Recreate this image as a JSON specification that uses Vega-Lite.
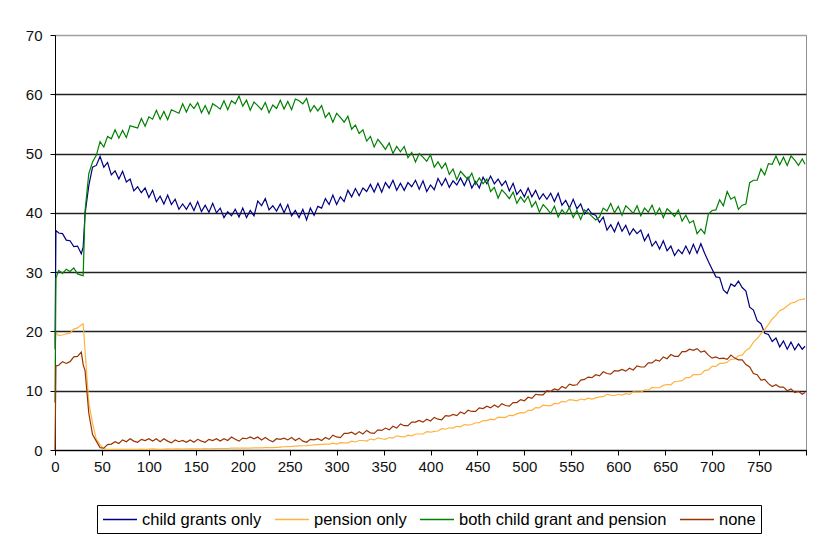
{
 "$schema": "https://vega.github.io/schema/vega-lite/v6.json",
 "width": 751, "height": 415,
 "autosize": "none",
 "padding": {"left": 55, "top": 35, "right": 15, "bottom": 90},
 "background": "white",
 "config": {"view": {"stroke": "#909090", "strokeWidth": 1}, "font": "Liberation Sans"},
 "data": {"values": [
{"x":0,"a":17,"b":17,"c":8,"d":0},
{"x":1,"a":37,"b":19.8,"c":29,"d":14.2},
{"x":4,"a":36.6,"b":19.3,"c":30.3,"d":14.3},
{"x":8,"a":36.5,"b":19.4,"c":29.8,"d":14.9},
{"x":12,"a":35.4,"b":19.6,"c":30.5,"d":14.6},
{"x":16,"a":35.3,"b":19.7,"c":30.1,"d":14.9},
{"x":20,"a":34.3,"b":20.4,"c":30.7,"d":15.7},
{"x":24,"a":34.4,"b":20.6,"c":29.7,"d":15.8},
{"x":28,"a":33.1,"b":21.1,"c":29.5,"d":16.5},
{"x":30,"a":34.2,"b":21.3,"c":29.4,"d":14.4},
{"x":32,"a":39.8,"b":16.8,"c":40.3,"d":13.4},
{"x":36,"a":44.6,"b":8.0,"c":46.6,"d":6.2},
{"x":40,"a":47.7,"b":4.5,"c":48.6,"d":2.6},
{"x":44,"a":48.0,"b":1.8,"c":49.7,"d":1.5},
{"x":48,"a":49.5,"b":0.9,"c":52.0,"d":0.4},
{"x":52,"a":47.7,"b":0.2,"c":51.1,"d":0.3},
{"x":56,"a":48.5,"b":0.1,"c":52.9,"d":0.9},
{"x":60,"a":46.4,"b":0.1,"c":52.5,"d":1.0},
{"x":64,"a":47.1,"b":0.1,"c":54.0,"d":1.4},
{"x":68,"a":45.7,"b":0.1,"c":52.6,"d":1.1},
{"x":72,"a":47.0,"b":0.1,"c":53.9,"d":1.7},
{"x":76,"a":45.2,"b":0.1,"c":52.7,"d":1.4},
{"x":80,"a":45.7,"b":0.1,"c":54.7,"d":1.9},
{"x":84,"a":43.7,"b":0.1,"c":54.5,"d":1.5},
{"x":88,"a":44.4,"b":0.1,"c":54.3,"d":1.3},
{"x":92,"a":43.4,"b":0.15,"c":55.9,"d":1.8},
{"x":96,"a":44.2,"b":0.1,"c":54.6,"d":1.6},
{"x":100,"a":42.6,"b":0.15,"c":56.2,"d":1.9},
{"x":104,"a":43.8,"b":0.2,"c":55.8,"d":1.5},
{"x":108,"a":41.9,"b":0.15,"c":57.3,"d":1.9},
{"x":112,"a":42.8,"b":0.1,"c":55.8,"d":1.4},
{"x":116,"a":41.5,"b":0.15,"c":57.1,"d":1.9},
{"x":120,"a":43.0,"b":0.2,"c":55.7,"d":1.5},
{"x":124,"a":41.4,"b":0.15,"c":57.4,"d":1.2},
{"x":128,"a":42.3,"b":0.2,"c":57.1,"d":1.7},
{"x":132,"a":40.6,"b":0.2,"c":56.8,"d":1.4},
{"x":136,"a":41.5,"b":0.15,"c":58.4,"d":1.6},
{"x":140,"a":40.6,"b":0.2,"c":57.0,"d":1.3},
{"x":144,"a":41.7,"b":0.2,"c":58.4,"d":1.7},
{"x":148,"a":40.4,"b":0.2,"c":57.6,"d":1.3},
{"x":152,"a":41.9,"b":0.2,"c":58.6,"d":1.8},
{"x":156,"a":40.2,"b":0.2,"c":56.9,"d":1.5},
{"x":160,"a":41.3,"b":0.25,"c":58.1,"d":1.3},
{"x":164,"a":40.1,"b":0.2,"c":56.7,"d":1.8},
{"x":168,"a":41.6,"b":0.25,"c":58.4,"d":1.6},
{"x":172,"a":40.0,"b":0.25,"c":58.0,"d":1.9},
{"x":176,"a":40.8,"b":0.25,"c":57.5,"d":1.5},
{"x":180,"a":39.2,"b":0.25,"c":58.9,"d":1.9},
{"x":184,"a":40.2,"b":0.25,"c":57.4,"d":1.6},
{"x":188,"a":39.5,"b":0.3,"c":58.9,"d":2.2},
{"x":192,"a":40.6,"b":0.3,"c":58.4,"d":1.8},
{"x":196,"a":39.3,"b":0.3,"c":59.7,"d":1.5},
{"x":200,"a":40.8,"b":0.3,"c":58.0,"d":2.0},
{"x":204,"a":39.2,"b":0.3,"c":59.0,"d":1.9},
{"x":208,"a":40.4,"b":0.3,"c":57.3,"d":2.2},
{"x":212,"a":39.5,"b":0.35,"c":58.7,"d":1.9},
{"x":216,"a":42.0,"b":0.35,"c":58.1,"d":2.2},
{"x":220,"a":41.2,"b":0.35,"c":57.4,"d":1.7},
{"x":224,"a":42.4,"b":0.4,"c":58.6,"d":2.1},
{"x":228,"a":40.5,"b":0.4,"c":56.9,"d":1.7},
{"x":232,"a":41.2,"b":0.4,"c":58.2,"d":1.4},
{"x":236,"a":40.3,"b":0.45,"c":57.6,"d":1.9},
{"x":240,"a":41.5,"b":0.5,"c":59.0,"d":1.8},
{"x":244,"a":40.0,"b":0.55,"c":57.5,"d":2.0},
{"x":248,"a":41.4,"b":0.58,"c":58.8,"d":1.7},
{"x":252,"a":39.5,"b":0.6,"c":57.4,"d":2.1},
{"x":256,"a":40.4,"b":0.65,"c":59.2,"d":1.6},
{"x":260,"a":39.2,"b":0.7,"c":58.9,"d":2.0},
{"x":264,"a":40.6,"b":0.72,"c":58.4,"d":1.5},
{"x":268,"a":38.8,"b":0.75,"c":59.3,"d":1.3},
{"x":272,"a":40.8,"b":0.8,"c":57.1,"d":1.8},
{"x":276,"a":39.6,"b":0.85,"c":58.1,"d":1.7},
{"x":280,"a":41.1,"b":0.9,"c":57.2,"d":1.9},
{"x":284,"a":40.8,"b":0.95,"c":58.1,"d":1.6},
{"x":288,"a":42.4,"b":0.98,"c":56.1,"d":2.1},
{"x":292,"a":41.4,"b":1.0,"c":56.9,"d":1.8},
{"x":296,"a":43.0,"b":1.15,"c":55.3,"d":2.5},
{"x":300,"a":41.4,"b":1.0,"c":56.8,"d":2.2},
{"x":304,"a":42.7,"b":1.25,"c":56.1,"d":2.1},
{"x":308,"a":41.9,"b":1.2,"c":55.3,"d":2.8},
{"x":312,"a":43.8,"b":1.2,"c":56.3,"d":2.8},
{"x":316,"a":42.7,"b":1.5,"c":54.1,"d":3.0},
{"x":320,"a":44.1,"b":1.35,"c":54.8,"d":2.6},
{"x":324,"a":42.9,"b":1.6,"c":53.4,"d":3.1},
{"x":328,"a":44.2,"b":1.6,"c":54.0,"d":2.7},
{"x":332,"a":43.6,"b":1.5,"c":52.1,"d":3.3},
{"x":336,"a":44.8,"b":1.85,"c":52.9,"d":2.9},
{"x":340,"a":43.5,"b":1.7,"c":51.1,"d":2.8},
{"x":344,"a":45.0,"b":2.05,"c":52.4,"d":3.4},
{"x":348,"a":43.5,"b":1.9,"c":51.6,"d":3.3},
{"x":352,"a":45.1,"b":1.8,"c":50.7,"d":3.7},
{"x":356,"a":44.2,"b":2.1,"c":51.8,"d":3.4},
{"x":360,"a":45.5,"b":2.0,"c":50.0,"d":4.0},
{"x":364,"a":43.8,"b":2.4,"c":51.2,"d":3.7},
{"x":368,"a":45.0,"b":2.25,"c":50.3,"d":4.4},
{"x":372,"a":43.8,"b":2.2,"c":51.2,"d":4.1},
{"x":376,"a":45.1,"b":2.5,"c":49.3,"d":4.1},
{"x":380,"a":44.4,"b":2.4,"c":50.2,"d":4.7},
{"x":384,"a":45.5,"b":2.7,"c":48.6,"d":4.7},
{"x":388,"a":44.0,"b":2.7,"c":50.0,"d":5.0},
{"x":392,"a":45.4,"b":2.7,"c":49.4,"d":4.7},
{"x":396,"a":43.6,"b":3.1,"c":48.7,"d":5.2},
{"x":400,"a":44.7,"b":3.0,"c":49.8,"d":4.9},
{"x":404,"a":43.9,"b":3.15,"c":47.7,"d":5.5},
{"x":408,"a":45.8,"b":3.2,"c":48.6,"d":5.2},
{"x":412,"a":44.6,"b":3.6,"c":47.5,"d":5.1},
{"x":416,"a":45.8,"b":3.5,"c":48.4,"d":5.8},
{"x":420,"a":44.3,"b":3.75,"c":46.5,"d":5.7},
{"x":424,"a":45.4,"b":3.7,"c":47.4,"d":6.0},
{"x":428,"a":44.7,"b":4.0,"c":45.6,"d":5.8},
{"x":432,"a":45.9,"b":3.9,"c":47.0,"d":6.4},
{"x":436,"a":44.6,"b":4.3,"c":46.3,"d":6.1},
{"x":440,"a":46.0,"b":4.2,"c":45.6,"d":6.7},
{"x":444,"a":44.2,"b":4.3,"c":46.7,"d":6.5},
{"x":448,"a":45.3,"b":4.6,"c":44.8,"d":6.5},
{"x":452,"a":44.2,"b":4.6,"c":45.9,"d":7.1},
{"x":456,"a":46.0,"b":4.95,"c":44.9,"d":7.0},
{"x":460,"a":44.9,"b":4.95,"c":45.7,"d":7.4},
{"x":464,"a":46.2,"b":5.2,"c":43.6,"d":7.1},
{"x":468,"a":44.9,"b":5.1,"c":44.3,"d":7.6},
{"x":472,"a":45.7,"b":5.55,"c":42.5,"d":7.2},
{"x":476,"a":44.6,"b":5.5,"c":43.9,"d":7.8},
{"x":480,"a":45.4,"b":5.5,"c":43.2,"d":7.5},
{"x":484,"a":43.7,"b":5.85,"c":42.4,"d":7.4},
{"x":488,"a":45.0,"b":5.8,"c":43.5,"d":8.0},
{"x":492,"a":43.1,"b":6.1,"c":41.6,"d":8.0},
{"x":496,"a":43.9,"b":6.3,"c":42.7,"d":8.5},
{"x":500,"a":42.7,"b":6.25,"c":41.8,"d":8.3},
{"x":504,"a":44.2,"b":6.7,"c":42.8,"d":8.9},
{"x":508,"a":42.7,"b":6.7,"c":41.0,"d":8.7},
{"x":512,"a":43.8,"b":7.15,"c":41.9,"d":9.4},
{"x":516,"a":42.3,"b":7.1,"c":40.1,"d":9.3},
{"x":520,"a":43.2,"b":7.55,"c":41.4,"d":9.3},
{"x":524,"a":42.3,"b":7.5,"c":40.7,"d":10.0},
{"x":528,"a":43.3,"b":7.45,"c":39.9,"d":9.9},
{"x":532,"a":41.9,"b":7.85,"c":41.1,"d":10.3},
{"x":536,"a":43.3,"b":7.8,"c":39.3,"d":10.1},
{"x":540,"a":41.3,"b":8.2,"c":40.5,"d":10.7},
{"x":544,"a":42.1,"b":8.1,"c":39.8,"d":10.4},
{"x":548,"a":40.8,"b":8.5,"c":40.9,"d":11.1},
{"x":552,"a":42.3,"b":8.4,"c":39.2,"d":10.9},
{"x":556,"a":40.7,"b":8.3,"c":40.4,"d":11.0},
{"x":560,"a":41.5,"b":8.6,"c":38.9,"d":11.8},
{"x":564,"a":39.8,"b":8.45,"c":40.5,"d":11.9},
{"x":568,"a":40.7,"b":8.75,"c":40.0,"d":12.3},
{"x":572,"a":39.8,"b":8.6,"c":39.4,"d":12.2},
{"x":576,"a":39.6,"b":8.8,"c":38.8,"d":12.7},
{"x":580,"a":38.4,"b":8.95,"c":39.3,"d":12.5},
{"x":584,"a":39.3,"b":9.0,"c":40.8,"d":13.2},
{"x":588,"a":37.1,"b":9.4,"c":40.3,"d":12.9},
{"x":592,"a":38.0,"b":9.25,"c":41.6,"d":12.8},
{"x":596,"a":36.8,"b":9.15,"c":40.0,"d":13.4},
{"x":600,"a":38.4,"b":9.4,"c":41.1,"d":13.3},
{"x":604,"a":36.9,"b":9.25,"c":39.6,"d":13.6},
{"x":608,"a":37.9,"b":9.5,"c":41.2,"d":13.3},
{"x":612,"a":36.3,"b":9.4,"c":40.6,"d":13.8},
{"x":616,"a":37.3,"b":9.8,"c":39.9,"d":13.5},
{"x":620,"a":36.5,"b":9.75,"c":41.2,"d":14.2},
{"x":624,"a":37.1,"b":9.75,"c":39.5,"d":14.0},
{"x":628,"a":35.3,"b":10.15,"c":40.8,"d":14.0},
{"x":632,"a":36.4,"b":10.1,"c":40.1,"d":14.7},
{"x":636,"a":34.4,"b":10.55,"c":41.3,"d":14.7},
{"x":640,"a":35.2,"b":10.5,"c":39.7,"d":15.2},
{"x":644,"a":33.9,"b":10.5,"c":40.8,"d":15.0},
{"x":648,"a":35.3,"b":10.9,"c":39.2,"d":15.7},
{"x":652,"a":33.6,"b":11.05,"c":40.7,"d":15.4},
{"x":656,"a":34.4,"b":11.0,"c":40.1,"d":16.1},
{"x":660,"a":32.8,"b":11.55,"c":39.4,"d":15.8},
{"x":664,"a":33.8,"b":11.6,"c":40.5,"d":15.8},
{"x":668,"a":33.1,"b":11.7,"c":38.6,"d":16.6},
{"x":672,"a":34.4,"b":12.2,"c":39.6,"d":16.6},
{"x":676,"a":33.1,"b":12.2,"c":38.3,"d":17.0},
{"x":680,"a":34.7,"b":12.7,"c":38.7,"d":16.8},
{"x":684,"a":33.2,"b":12.7,"c":36.5,"d":17.1},
{"x":688,"a":34.8,"b":12.75,"c":37.3,"d":16.5},
{"x":692,"a":33.2,"b":13.4,"c":36.5,"d":16.7},
{"x":696,"a":31.8,"b":13.5,"c":39.8,"d":16.0},
{"x":700,"a":30.5,"b":14.1,"c":40.4,"d":15.5},
{"x":704,"a":29.2,"b":14.1,"c":40.5,"d":15.7},
{"x":708,"a":29.1,"b":14.6,"c":42.2,"d":15.4},
{"x":712,"a":27.0,"b":14.6,"c":41.2,"d":15.5},
{"x":716,"a":26.4,"b":14.8,"c":43.6,"d":15.3},
{"x":720,"a":28.0,"b":15.3,"c":42.3,"d":16.0},
{"x":724,"a":27.6,"b":15.35,"c":42.7,"d":15.5},
{"x":728,"a":28.5,"b":15.9,"c":40.6,"d":15.2},
{"x":732,"a":27.4,"b":16.0,"c":41.3,"d":15.2},
{"x":736,"a":26.8,"b":16.8,"c":41.5,"d":14.4},
{"x":740,"a":24.1,"b":17.2,"c":45.1,"d":14.0},
{"x":744,"a":23.6,"b":18.2,"c":45.5,"d":12.9},
{"x":748,"a":21.8,"b":18.8,"c":45.5,"d":12.7},
{"x":752,"a":21.3,"b":19.6,"c":47.4,"d":11.8},
{"x":756,"a":19.7,"b":20.3,"c":46.4,"d":11.9},
{"x":760,"a":19.5,"b":21.2,"c":48.3,"d":11.2},
{"x":764,"a":18.3,"b":22.1,"c":48.2,"d":10.7},
{"x":768,"a":18.9,"b":22.7,"c":49.6,"d":11.0},
{"x":772,"a":17.4,"b":23.5,"c":48.1,"d":10.6},
{"x":776,"a":18.4,"b":23.8,"c":49.4,"d":10.6},
{"x":780,"a":17.0,"b":24.3,"c":48.0,"d":10.0},
{"x":784,"a":18.2,"b":24.8,"c":49.6,"d":10.3},
{"x":788,"a":16.9,"b":24.9,"c":48.9,"d":9.7},
{"x":792,"a":17.9,"b":25.3,"c":48.0,"d":9.9},
{"x":796,"a":17.0,"b":25.4,"c":49.1,"d":9.4},
{"x":799,"a":17.5,"b":25.5,"c":48.2,"d":9.7}
 ]},
 "transform": [{"fold": ["a", "b", "c", "d"], "as": ["s", "v"]}],
 "mark": {"type": "line", "strokeWidth": 1.2, "interpolate": "linear"},
 "encoding": {
  "x": {"field": "x", "type": "quantitative",
   "scale": {"domain": [0, 800], "nice": false, "zero": true},
   "axis": {"title": null, "values": [0,50,100,150,200,250,300,350,400,450,500,550,600,650,700,750,800],
    "labelExpr": "datum.value == 800 ? '' : datum.label",
    "grid": false, "domainColor": "#000", "tickColor": "#000", "tickSize": 5,
    "labelFontSize": 15, "labelColor": "#111", "labelPadding": 4, "labelFlush": false, "labelOverlap": false}},
  "y": {"field": "v", "type": "quantitative",
   "scale": {"domain": [0, 70], "nice": false},
   "axis": {"title": null, "values": [0,10,20,30,40,50,60,70],
    "grid": true, "gridColor": {"condition": {"test": "datum.value == 70", "value": "#A0A0A0"}, "value": "#222"},
    "gridWidth": 1.5, "domainColor": "#000", "tickColor": "#000", "tickSize": 5,
    "labelFontSize": 15, "labelColor": "#111", "labelPadding": 8}},
  "color": {"field": "s", "type": "nominal", "sort": ["a", "b", "c", "d"],
   "scale": {"domain": ["a", "b", "c", "d"], "range": ["#000080", "#FFB33F", "#008000", "#993300"]},
   "legend": {"title": null, "orient": "none", "legendX": 42, "legendY": 470, "direction": "horizontal",
    "symbolType": "M-1,0H3", "symbolSize": 289, "symbolStrokeWidth": 1.5,
    "labelFontSize": 16.5, "labelColor": "#000", "labelOffset": 21, "columnPadding": 10, "labelLimit": 0,
    "strokeColor": "#000", "padding": 5, "fillColor": "white",
    "labelExpr": "datum.label == 'a' ? 'child grants only' : datum.label == 'b' ? 'pension only' : datum.label == 'c' ? 'both child grant and pension' : 'none'"}}
 }
}
